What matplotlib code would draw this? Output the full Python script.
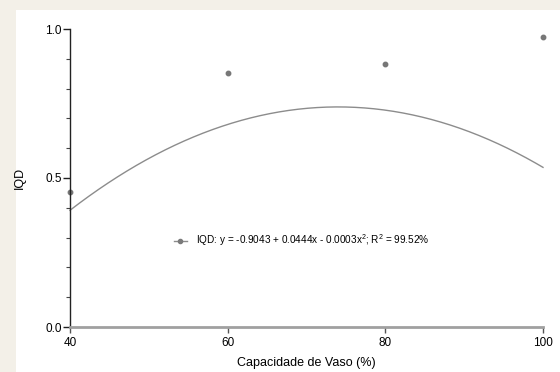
import matplotlib.pyplot as plt
from matplotlib.lines import Line2D
import numpy as np

plt.rcParams['font.family'] = ['Liberation Sans', 'DejaVu Sans']
plt.rcParams['mathtext.fontset'] = 'custom'
plt.rcParams['mathtext.rm'] = 'Liberation Sans'
plt.rcParams['mathtext.it'] = 'Liberation Sans:italic'

# Data
capacidade = [40, 60, 80, 100]
iqd = [0.453, 0.852, 0.883, 0.973]

# fitted quadratic (from legend): y = b0 + b1 x + b2 x^2
coef = [-0.9043, 0.0444, -0.0003]
legend_label = r"IQD: y = -0.9043 + 0.0444x - 0.0003x$^2$; R$^2$ = 99.52%"

fig = plt.figure(figsize=(5.6, 3.72), dpi=100)
fig.patch.set_facecolor('#f3f0e8')

# white panel behind the chart
bg = fig.add_axes([16/560, 0, 1 - 16/560, 1 - 10/372])
bg.set_facecolor('white')
bg.set_xticks([])
bg.set_yticks([])
for s in bg.spines.values():
    s.set_visible(False)

ax = fig.add_axes([70/560, 1 - 327/372, 473/560, 298/372])
ax.set_facecolor('none')

xs = np.linspace(40, 100, 200)
ys = coef[0] + coef[1] * xs + coef[2] * xs**2
ax.plot(xs, ys, color='#8c8c8c', lw=1.0, clip_on=False)
ax.plot(capacidade, iqd, 'o', color='#777777', ms=3.2, clip_on=False)

ax.set_xlim(40, 100)
ax.set_ylim(0, 1.0)
ax.set_xticks([40, 60, 80, 100])
ax.set_yticks([0.0, 0.5, 1.0])
ax.set_yticklabels(['0.0', '0.5', '1.0'])
ax.set_yticks(np.arange(0, 1.01, 0.1), minor=True)

for s in ['top', 'right']:
    ax.spines[s].set_visible(False)
ax.spines['left'].set_color('#222222')
ax.spines['left'].set_linewidth(1.0)
ax.spines['bottom'].set_color('#a0a0a0')
ax.spines['bottom'].set_linewidth(2.0)

ax.tick_params(axis='y', which='major', length=5, width=1, color='#222222',
               labelsize=8.5, pad=1)
ax.tick_params(axis='y', which='minor', length=3, width=0.8, color='#444444')
ax.tick_params(axis='x', which='major', length=4, width=1, color='#555555',
               labelsize=8.5, pad=3)

ax.set_xlabel('Capacidade de Vaso (%)', fontsize=9, labelpad=6)
ax.set_ylabel('IQD', fontsize=9, labelpad=14)

handle = Line2D([0], [0], color='#8c8c8c', lw=1.0, marker='o', ms=3,
                markerfacecolor='#7a7a7a', markeredgecolor='#7a7a7a')
ax.legend([handle], [legend_label], frameon=False, fontsize=7.2,
          loc='center left', bbox_to_anchor=(0.20, 0.29),
          handlelength=1.3, handletextpad=0.9)

fig.savefig('out.png', dpi=100, facecolor=fig.get_facecolor())
